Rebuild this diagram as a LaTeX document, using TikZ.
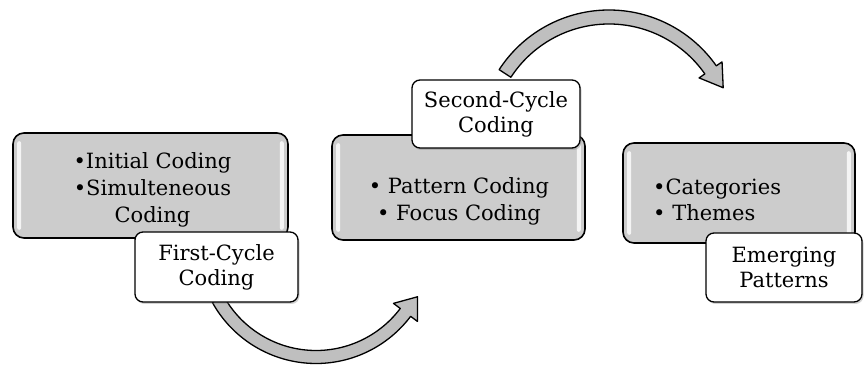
\documentclass[tikz,border=0pt]{standalone}
\usepackage{fontspec}
\setmainfont{DejaVu Serif}
\usepackage{tikz}
\usetikzlibrary{shadows,calc}
% curved block arrow: centre, start angle, end angle, tip angle, radius, half band, half head
\newcommand\bandarrow[7]{%
  \draw[bandarrow] ([shift={(#2:#5+#6)}]#1) arc[start angle=#2, end angle=#3, radius=#5+#6]
    -- ([shift={(#3:#5+#7)}]#1) -- ([shift={(#4:#5+2)}]#1) -- ([shift={(#3:#5-#7)}]#1)
    -- ([shift={(#3:#5-#6)}]#1) arc[start angle=#3, end angle=#2, radius=#5-#6] -- cycle;}
\tikzset{
  stagebox/.style={draw, line width=1.6pt, rounded corners=11pt, fill=black!20, inner sep=0pt},
  cyclelabel/.style={draw, line width=1.3pt, rounded corners=8pt, fill=white, align=center,
    inner sep=0pt, font=\fontsize{21}{25}\selectfont,
    drop shadow={shadow xshift=1.5pt, shadow yshift=-2pt, opacity=.35}},
  bandarrow/.style={draw, line width=1.3pt, fill=black!25, line join=round},
  shine/.style={fill=white, opacity=.8, rounded corners=2pt}
}
\begin{document}
\begin{tikzpicture}[x=1pt,y=1pt,font=\fontsize{21}{27}\selectfont]
\useasboundingbox (0,0) rectangle (864,364);

% centres of the two curved arrows
\coordinate (turn1) at (316,119);
\coordinate (turn2) at (609,223);
\bandarrow{turn1}{209}{323}{333}{112}{6.5}{15}
\bandarrow{turn2}{147}{35}{25}{124}{7}{14}

% grey boxes
\node[stagebox, minimum width=275pt, minimum height=105pt] (initial) at (150.5,178.5) {};
\node[stagebox, minimum width=253pt, minimum height=105pt] (pattern) at (458.5,176.5) {};
\node[stagebox, minimum width=232pt, minimum height=100pt] (category) at (739,171) {};
\foreach \b in {initial,pattern,category}{
  \fill[shine] ([xshift=5pt,yshift=9pt]\b.south west) rectangle ([xshift=9pt,yshift=-9pt]\b.north west);
  \fill[shine] ([xshift=-9pt,yshift=9pt]\b.south east) rectangle ([xshift=-5pt,yshift=-9pt]\b.north east);
}

% lists in the boxes
\node[align=center] (initiallist) at (152.5,174.5) {\textbullet Initial Coding\\\textbullet Simulteneous\\Coding};
\node[align=center] (patternlist) at (459,163) {\textbullet{} Pattern Coding\\\textbullet{} Focus Coding};
\node[align=left, anchor=west, inner sep=0pt, font=\fontsize{21}{26}\selectfont] (categorylist) at (653,164.5) {\textbullet Categories\\\textbullet{} Themes};

% cycle labels
\node[cyclelabel, minimum width=163pt, minimum height=70pt] (first) at (216.5,97) {First-Cycle\\Coding};
\node[cyclelabel, minimum width=168pt, minimum height=68pt] (second) at (496,250) {Second-Cycle\\Coding};
\node[cyclelabel, minimum width=156pt, minimum height=69pt] (emerging) at (784,96.5) {Emerging\\Patterns};
\end{tikzpicture}
\end{document}
